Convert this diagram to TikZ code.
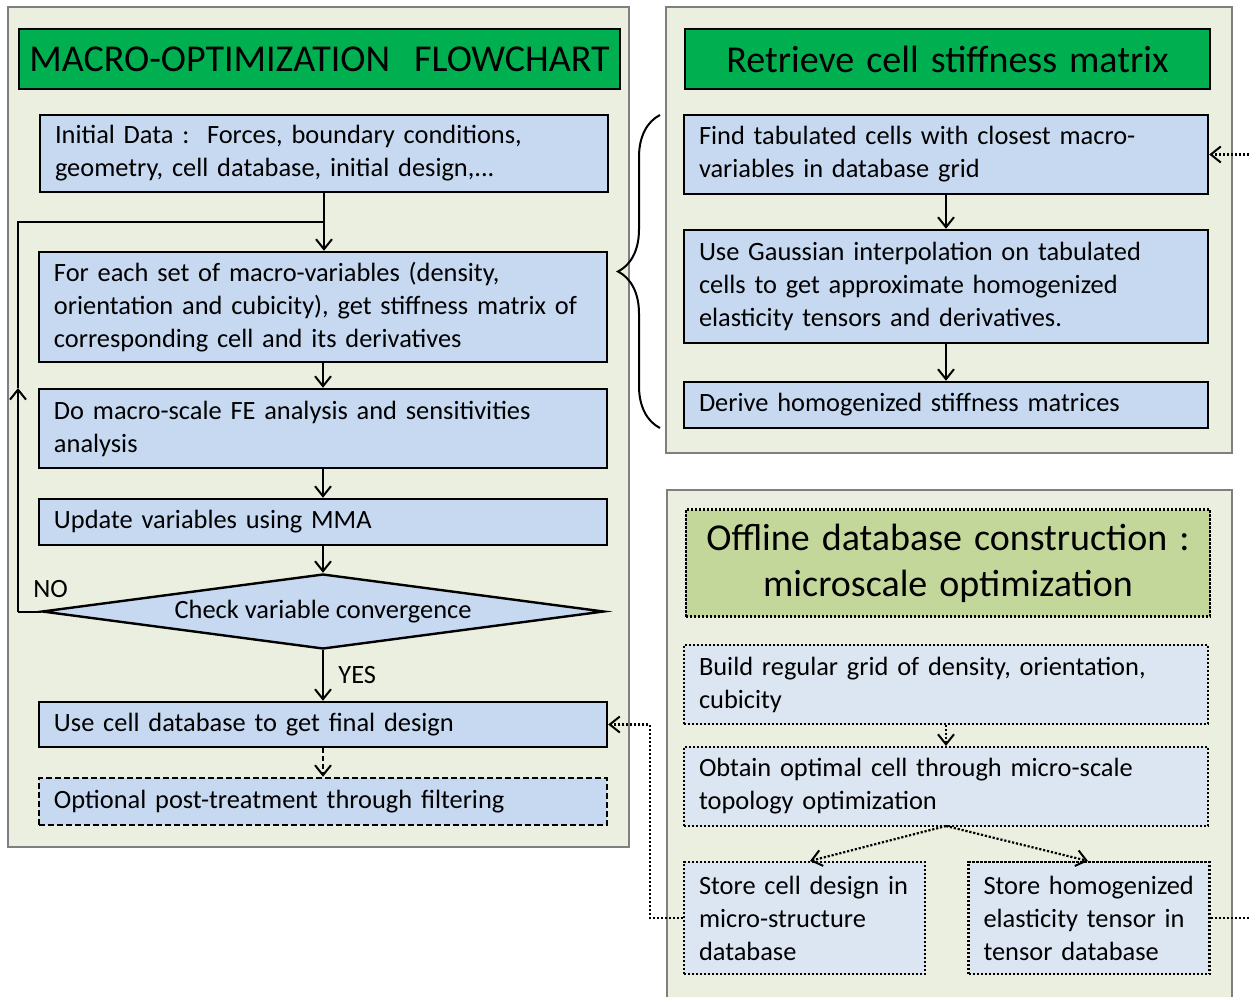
\documentclass[tikz,border=0pt]{standalone}
\usepackage{fontspec}
\setmainfont{Carlito}
\newfontfamily\titlefont{Carlito}[WordSpace=1.4]
\usetikzlibrary{arrows.meta,shapes.geometric,decorations.pathreplacing}
\newcommand\myNoHyph{\hyphenpenalty=10000 \exhyphenpenalty=10000\relax}
\definecolor{panelbg}{HTML}{EBEFDF}
\definecolor{panelline}{HTML}{7F7F7F}
\definecolor{boxblue}{HTML}{C6D9F1}
\definecolor{boxlight}{HTML}{DCE6F2}
\definecolor{titlegreen}{HTML}{00B050}
\definecolor{olive}{HTML}{C4D79B}
\tikzset{
  panel/.style={draw=panelline, line width=0.7pt, fill=panelbg},
  bodyfont/.style={font=\fontsize{13.2}{16.5}\selectfont\myNoHyph},
  titlebox/.style={draw=black, line width=1.2pt, fill=titlegreen, inner sep=0pt,
    font=\titlefont\fontsize{19}{23}\selectfont, align=center},
  box/.style={draw=black, line width=1.2pt, fill=boxblue, bodyfont, align=left,
    inner xsep=7.5pt, inner ysep=0pt, anchor=center},
  wideL/.style={text width=269pt, minimum width=284pt},
  wideR/.style={text width=247pt, minimum width=262pt},
  narrowR/.style={text width=105.5pt, minimum width=120.5pt},
  dotbox/.style={box, fill=boxlight, dash pattern=on 1.1pt off 0.9pt, line width=1.1pt},
  arr/.style={draw=black, line width=1pt, -{Straight Barb[length=5pt,width=8pt,line width=1pt]}},
  dotarr/.style={arr, dash pattern=on 1.1pt off 0.9pt, line width=1.1pt},
  dashedarr/.style={arr, dash pattern=on 2.5pt off 1.5pt},
  conn/.style={draw=black, line width=1pt},
  lbl/.style={bodyfont, inner sep=0pt}
}
\begin{document}
\begin{tikzpicture}[x=0.5pt,y=-0.5pt]
\useasboundingbox (0,0) rectangle (1250,997);
\fill[white] (0,0) rectangle (1250,997);

% ---------- panels ----------
\path[panel] (8,7) rectangle (629,847);
\path[panel] (666,7) rectangle (1232,453);
\path[panel] (667,490) rectangle (1232,1010);

% ---------- left column ----------
\node[titlebox, minimum width=300.5pt, minimum height=30pt] (ltitle) at (319.5,59)
  {MACRO-OPTIMIZATION\ \ FLOWCHART};
\node[box, wideL, minimum height=38.5pt] (init) at (324,153.5)
  {Initial Data :\ \ Forces, boundary conditions,\\geometry, cell database, initial design,...};
\node[box, wideL, minimum height=55pt] (foreach) at (323,307)
  {For each set of macro-variables (density,\\orientation and cubicity), get stiffness matrix of\\corresponding cell and its derivatives};
\node[box, wideL, minimum height=39.5pt] (domacro) at (323,428.5)
  {Do macro-scale FE analysis and sensitivities\\analysis};
\node[box, wideL, minimum height=23pt] (update) at (323,522)
  {Update variables using MMA};
\node[diamond, draw=black, line width=1.2pt, fill=boxblue, aspect=7.5, inner sep=0pt,
  minimum width=281pt, minimum height=37.5pt, bodyfont] (check) at (323,611.5)
  {Check variable convergence};
\node[box, wideL, minimum height=22.5pt] (usecell) at (323,724.5)
  {Use cell database to get final design};
\node[box, wideL, minimum height=23.5pt, dash pattern=on 3pt off 1.5pt] (optional) at (323,801.5)
  {Optional post-treatment through filtering};

\draw[arr] (init.south) -- (init.south |- foreach.north);
\draw[arr] (foreach.south) -- (foreach.south |- domacro.north);
\draw[arr] (domacro.south) -- (domacro.south |- update.north);
\draw[arr] (update.south) -- (update.south |- check.north);
\draw[arr] (check.south) -- (check.south |- usecell.north);
\draw[dashedarr] (usecell.south) -- (usecell.south |- optional.north);

\coordinate (loopl) at (18,611.5);
\coordinate (loopm) at (18,388);
\coordinate (join) at (324,222);
\draw[conn] (check.west) -- (loopl);
\draw[arr] (loopl) -- (loopm);
\draw[conn] (loopm) |- (join);

\node[lbl, anchor=west] (no) at (33,589) {NO};
\node[lbl, anchor=west] (yes) at (338,675) {YES};

% ---------- right top ----------
\node[titlebox, minimum width=262.5pt, minimum height=30pt] (rtitle) at (947.5,59)
  {Retrieve cell stiffness matrix};
\node[box, wideR, minimum height=39.5pt] (find) at (946,154.5)
  {Find tabulated cells with closest macro-\\variables in database grid};
\node[box, wideR, minimum height=56.5pt] (gauss) at (946,286.5)
  {Use Gaussian interpolation on tabulated\\cells to get approximate homogenized\\elasticity tensors and derivatives.};
\node[box, wideR, minimum height=23pt] (derive) at (946,405)
  {Derive homogenized stiffness matrices};
\draw[arr] (find.south) -- (find.south |- gauss.north);
\draw[arr] (gauss.south) -- (gauss.south |- derive.north);

\draw[line width=1pt, decorate, decoration={brace, amplitude=21pt}]
  (660,428) -- (660,115);

% ---------- right bottom ----------
\node[titlebox, fill=olive, dash pattern=on 1.1pt off 0.9pt, line width=1.1pt,
  minimum width=262pt, minimum height=53.5pt] (otitle) at (948,563)
  {Offline database construction :\\microscale optimization};
\node[dotbox, wideR, minimum height=39.5pt] (build) at (946,684.5)
  {Build regular grid of density, orientation,\\cubicity};
\node[dotbox, wideR, minimum height=39.5pt] (obtain) at (946,786.5)
  {Obtain optimal cell through micro-scale\\topology optimization};
\node[dotbox, narrowR, minimum height=56pt] (storecell) at (804.5,918)
  {\mbox{Store cell design in}\\\mbox{micro-structure}\\database};
\node[dotbox, narrowR, minimum height=56pt] (storeh) at (1089,918)
  {\mbox{Store homogenized}\\\mbox{elasticity tensor in}\\\mbox{tensor database}};

\draw[dotarr] (build.south) -- (build.south |- obtain.north);
\coordinate (osplit) at (946,826);
\coordinate (scin) at (810,861);
\coordinate (shin) at (1088,861);
\draw[dotarr] (osplit) -- (scin);
\draw[dotarr] (osplit) -- (shin);

\coordinate (lret) at (650,918);
\draw[dotarr] (storecell.west) -- (lret) |- (usecell.east);
\coordinate (rret) at (1262,918);
\draw[dotarr] (storeh.east) -- (rret) |- (find.east);
\end{tikzpicture}
\end{document}
